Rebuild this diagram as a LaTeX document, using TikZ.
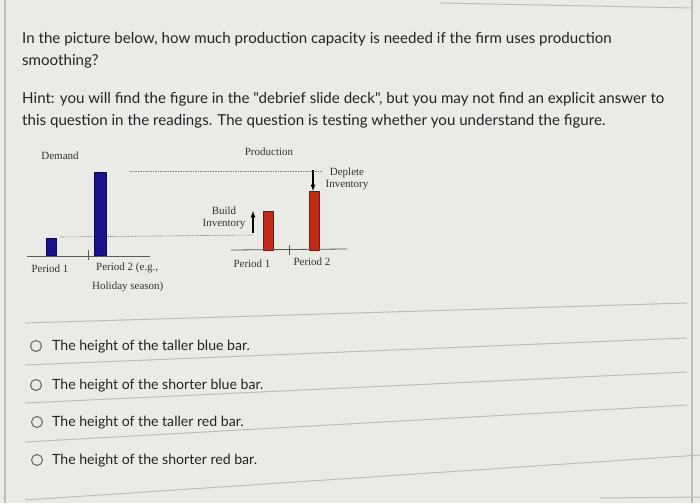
\documentclass[tikz,border=0pt]{standalone}
\usepackage{fontspec}
\setmainfont{Liberation Serif}
\newfontfamily\latofont{Lato}
\definecolor{fondo}{RGB}{234,234,231}
\definecolor{texto}{RGB}{35,35,35}
\definecolor{azul}{RGB}{24,18,140}
\definecolor{rojo}{RGB}{192,42,22}
\definecolor{linea}{RGB}{188,188,184}
\tikzset{
  pregunta/.style={anchor=base west, inner sep=0pt, text=texto, font=\latofont\fontsize{15.1}{17}\selectfont},
  opcion/.style={anchor=base west, inner sep=0pt, text=texto, font=\latofont\fontsize{14.1}{16}\selectfont},
  radio/.style={circle, draw=gray!85!black, line width=1.1pt, minimum size=11pt, inner sep=0pt},
  etiqueta/.style={inner sep=0pt, text=black!80, font=\fontsize{11}{12.5}\selectfont, align=center},
  barraazul/.style={fill=azul, draw=azul!60!black, line width=0.4pt},
  barraroja/.style={fill=rojo, draw=rojo!60!black, line width=0.4pt},
  nivel/.style={gray, dash pattern=on 1.5pt off 1pt, line width=0.6pt},
  eje/.style={gray!70!black, line width=0.8pt},
  separador/.style={linea, line width=1pt},
}
\begin{document}
\begin{tikzpicture}[x=1pt,y=-1pt]
\fill[fondo] (0,0) rectangle (700,503);
\useasboundingbox (0,0) rectangle (700,503);
\draw[linea, line width=1.2pt] (5,0) -- (5,503); % borde izq
\draw[linea, line width=1.2pt] (692,0) -- (692,503); % borde der
\draw[linea, line width=1pt] (440,3) -- (692,8); % borde sup
% pregunta
\node[pregunta] (q1) at (22,44) {In the picture below, how much production capacity is needed if the firm uses production};
\node[pregunta] (q2) at (22,65) {smoothing?};
\node[pregunta] (h1) at (22,103) {Hint: you will find the figure in the "debrief slide deck", but you may not find an explicit answer to};
\node[pregunta] (h2) at (22,125) {this question in the readings. The question is testing whether you understand the figure.};
% grafico demanda
\node[etiqueta] (demanda) at (60,156) {Demand};
\draw[nivel] (130,171) -- (322,171); % nivel alto
\draw[nivel] (60,237) -- (253,235); % nivel bajo
\draw[barraazul] (46,238) rectangle (56,255);
\draw[barraazul] (94,172) rectangle (106,255);
\draw[eje] (27,256) -- (150,256); % eje demanda
\draw[eje] (88,250) -- (88,260);
\node[etiqueta] (dp1) at (50,269) {Period 1};
\node[etiqueta, anchor=west] (dp2) at (96,268) {Period 2 (e.g.,};
\node[etiqueta, anchor=west] (dp2b) at (92,287) {Holiday season)};
% grafico produccion
\node[etiqueta] (produccion) at (269,152) {Production};
\draw[barraroja] (263,211) rectangle (273,250);
\draw[barraroja] (309,191) rectangle (319,250);
\draw[eje] (231,250) -- (347,249); % eje produccion
\draw[eje] (289,245) -- (289,255);
\node[etiqueta] (pp1) at (252,264) {Period 1};
\node[etiqueta] (pp2) at (312,262) {Period 2};
\node[etiqueta] (build) at (224,218) {Build\\Inventory};
\node[etiqueta] (deplete) at (347,179) {Deplete\\Inventory};
\draw[-latex, line width=1.2pt] (253,233) -- (253,211); % construir
\draw[-latex, line width=1.2pt] (313,170) -- (313,191); % agotar
% opciones
\draw[separador] (25,323) -- (687,303);
\draw[separador] (25,365) -- (687,338);
\draw[separador] (25,403) -- (687,372);
\draw[separador] (25,442) -- (687,405);
\draw[separador] (25,500) -- (700,455);
\draw[separador] (600,498) -- (700,497);
\node[radio] (r1) at (36,346) {};
\node[radio] (r2) at (36,385) {};
\node[radio] (r3) at (37,422) {};
\node[radio] (r4) at (37,460) {};
\node[opcion] (o1) at (52,350) {The height of the taller blue bar.};
\node[opcion] (o2) at (52,389) {The height of the shorter blue bar.};
\node[opcion] (o3) at (52,426) {The height of the taller red bar.};
\node[opcion] (o4) at (52,464) {The height of the shorter red bar.};
\end{tikzpicture}
\end{document}
